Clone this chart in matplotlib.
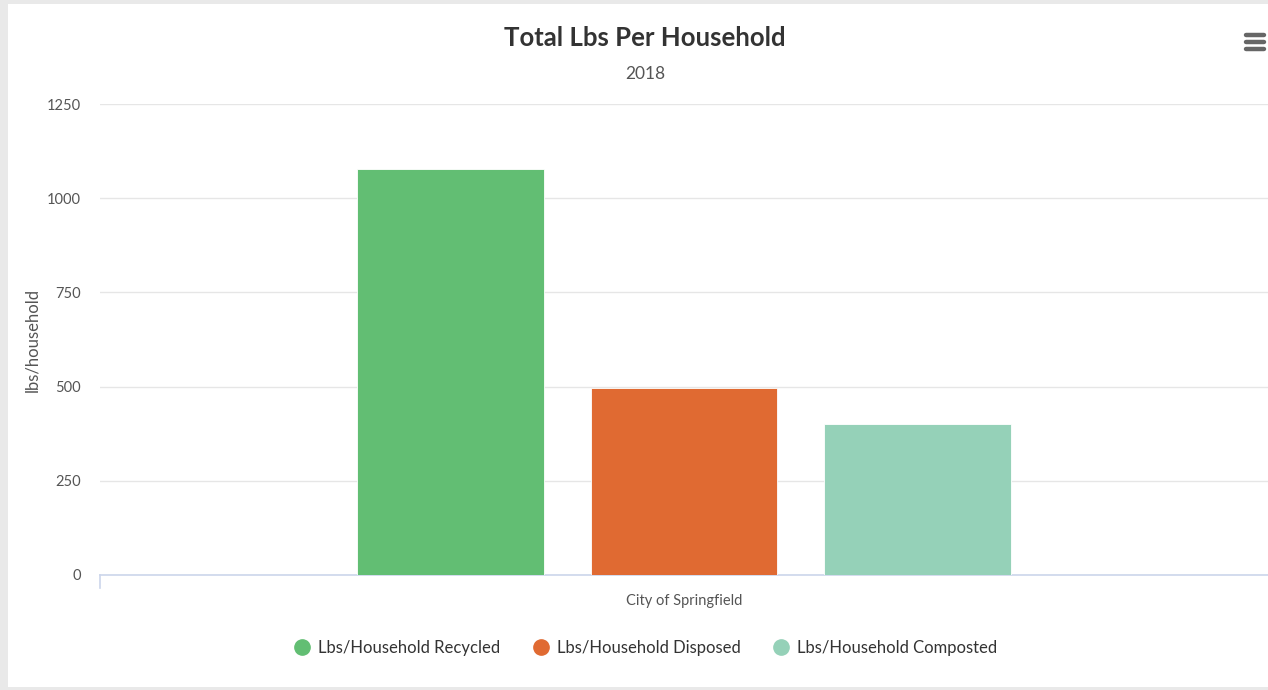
import matplotlib
matplotlib.use("Agg")
import matplotlib.pyplot as plt
from matplotlib.patches import Rectangle
from matplotlib.lines import Line2D

categories = ["City of Springfield"]
series_names = ["Lbs/Household Recycled", "Lbs/Household Disposed", "Lbs/Household Composted"]
series_values = [[1077], [496], [400]]
colors = ["#62be73", "#e06a32", "#95d1b8"]
y_ticks = [0, 250, 500, 750, 1000, 1250]

plt.rcParams['font.family'] = ['Lato', 'DejaVu Sans']

W, H = 1268, 690
fig = plt.figure(figsize=(W / 100, H / 100), dpi=100, facecolor="#e9e9e9")
# white chart card
card = Rectangle((8 / W, 3 / H), (W - 8) / W, (H - 7) / H,
                 transform=fig.transFigure, facecolor="white",
                 edgecolor="none", zorder=-10)
fig.add_artist(card)

ax = fig.add_axes([100 / W, (H - 575) / H, (W - 100) / W, (575 - 104) / H])
ax.set_facecolor("none")
ax.set_zorder(2)

n = len(series_names)
width = 0.16
step = 0.2
for i, (name, vals) in enumerate(zip(series_names, series_values)):
    xs = [c + (i - (n - 1) / 2) * step for c in range(len(categories))]
    ax.bar(xs, vals, width=width, color=colors[i], label=name, zorder=3,
           edgecolor="white", linewidth=0.6)

ax.set_xlim(-0.5, len(categories) - 0.5)
ax.set_ylim(0, 1250)
ax.set_yticks(y_ticks)
ax.set_yticklabels([str(t) for t in y_ticks])
ax.grid(axis="y", color="#e6e6e6", linewidth=1, zorder=0)
ax.set_xticks(range(len(categories)))
ax.set_xticklabels(categories)
ax.tick_params(axis="x", length=0, pad=14, labelsize=10.5, labelcolor="#555555")
ax.tick_params(axis="y", length=0, pad=14, labelsize=10.5, labelcolor="#555555")
for s in ["top", "right", "left"]:
    ax.spines[s].set_visible(False)
ax.spines["bottom"].set_color("#ccd6eb")
ax.spines["bottom"].set_linewidth(1.2)
# category boundary tick
ax.add_line(Line2D([0, 0], [0, -0.028], transform=ax.transAxes, color="#ccd6eb",
                   linewidth=1.2, clip_on=False))

ax.set_ylabel("lbs/household", fontsize=12, color="#555555")
ax.yaxis.set_label_coords(-60 / (W - 100), 0.5)

fig.text(645 / W, 1 - 38 / H, "Total Lbs Per Household", ha="center", va="center",
         fontsize=18.5, fontweight="bold", color="#333333")
fig.text(645 / W, 1 - 74 / H, "2018", ha="center", va="center",
         fontsize=12.5, color="#555555")

# menu icon
for yy in [35, 42, 49]:
    fig.add_artist(Line2D([1246 / W, 1264 / W], [1 - yy / H, 1 - yy / H],
                          transform=fig.transFigure, color="#666666",
                          linewidth=3.2, solid_capstyle="round"))

handles = [Line2D([], [], marker="o", linestyle="none", markersize=11,
                  markerfacecolor=c, markeredgecolor=c) for c in colors]
fig.legend(handles, series_names, loc="center", bbox_to_anchor=(646 / W, 1 - 648 / H),
           ncol=3, frameon=False, fontsize=12, handlelength=0.9, handletextpad=0.5,
           columnspacing=2.0, labelcolor="#333333")

fig.savefig("out.png", dpi=100, facecolor=fig.get_facecolor())
